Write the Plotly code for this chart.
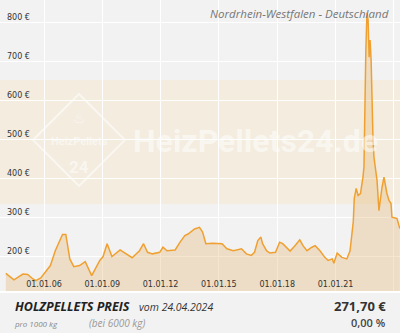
import plotly.graph_objects as go

# ---- data ----
dates = [
    "2004-01-15", "2004-06-15", "2004-12-01", "2005-03-01", "2005-06-01", "2005-08-01",
    "2005-11-01", "2006-02-01", "2006-05-01", "2006-08-01", "2006-12-15", "2007-02-15",
    "2007-05-01", "2007-07-15", "2007-11-01", "2008-02-15", "2008-06-15", "2008-11-15",
    "2009-01-15", "2009-04-01", "2009-05-01", "2009-07-01", "2009-12-01", "2010-04-01",
    "2010-07-15", "2010-12-01", "2011-02-15", "2011-05-01", "2011-08-01", "2011-12-15",
    "2012-02-15", "2012-05-01", "2012-10-01", "2013-01-01", "2013-04-01", "2013-06-01",
    "2013-10-01", "2014-01-01", "2014-03-01", "2014-05-01", "2014-09-01", "2015-03-01",
    "2015-06-01", "2015-10-01", "2016-03-01", "2016-06-01", "2016-09-01", "2016-11-01",
    "2017-01-01", "2017-03-01", "2017-04-01", "2017-06-15", "2017-08-15", "2017-12-01",
    "2018-02-15", "2018-04-15", "2018-09-01", "2018-12-01", "2019-03-01", "2019-05-01",
    "2019-07-15", "2019-10-15", "2019-12-15", "2020-03-15", "2020-06-15", "2020-08-15",
    "2020-11-01", "2020-12-01", "2021-02-01", "2021-05-01", "2021-08-01", "2021-10-01",
    "2021-11-01", "2021-12-01", "2021-12-20", "2022-01-10", "2022-01-25", "2022-03-01",
    "2022-04-15", "2022-06-01", "2022-06-20", "2022-07-25", "2022-08-15", "2022-09-05",
    "2022-09-25", "2022-10-12", "2022-11-01", "2022-12-07", "2022-12-25", "2023-02-20",
    "2023-03-28", "2023-05-25", "2023-07-01", "2023-08-25", "2023-10-03", "2023-11-10",
    "2023-11-28", "2024-03-01", "2024-04-24",
]
prices = [
    157, 140, 155, 154, 143, 138,
    145, 160, 177, 215, 257, 257,
    194, 174, 177, 187, 151, 190,
    200, 233, 220, 200, 217, 207,
    197, 215, 233, 211, 207, 211,
    224, 215, 217, 237, 254, 258,
    271, 275, 263, 233, 234, 233,
    220, 215, 220, 207, 203, 211,
    241, 250, 233, 215, 209, 211,
    237, 233, 214, 228, 243, 228,
    215, 224, 228, 215, 198, 190,
    194, 183, 209, 198, 194, 215,
    246, 290, 350, 372, 375, 357,
    362, 404, 430, 730, 826, 808,
    712, 756, 705, 499, 455, 396,
    318, 378, 404, 362, 344, 336,
    301, 298, 271.7,
]
x_tick_dates = ["2006-01-01", "2009-01-01", "2012-01-01", "2015-01-01",
                "2018-01-01", "2021-01-01", "2024-01-01"]
x_tick_labels = ["01.01.06", "01.01.09", "01.01.12", "01.01.15",
                 "01.01.18", "01.01.21", ""]
y_tick_vals = [200, 300, 400, 500, 600, 700, 800]
y_tick_labels = ["200 €", "300 €", "400 €", "500 €", "600 €", "700 €", "800 €"]

title_text = "Nordrhein-Westfalen - Deutschland"
footer_title = "HOLZPELLETS PREIS"
footer_date = "vom 24.04.2024"
footer_unit = "pro 1000 kg"
footer_qty = "(bei 6000 kg)"
footer_price = "271,70 €"
footer_change = "0,00 %"

W, H = 400, 333
PLOT_H = 292


def px(x):
    return x / W


def py(y):
    return 1 - y / PLOT_H


fig = go.Figure()
fig.add_trace(go.Scatter(
    x=dates, y=prices, mode="lines",
    line=dict(color="#f0a030", width=1.5),
    fill="tozeroy", fillcolor="rgba(228,178,108,0.33)",
    hoverinfo="skip",
))

WM = "rgba(255,255,255,0.55)"
shapes = [
    # beige watermark band
    dict(type="rect", xref="paper", yref="paper", x0=0, x1=1, y0=py(204), y1=py(80),
         fillcolor="#f3ecdf", line=dict(width=0), layer="below"),
    # watermark diamond
    dict(type="path", xref="paper", yref="paper",
         path=f"M {px(33)} {py(140)} L {px(79)} {py(94)} L {px(125)} {py(140)} L {px(79)} {py(186)} Z",
         line=dict(color=WM, width=2), layer="below"),
    # separator between plot and footer
    dict(type="line", xref="paper", yref="paper", x0=0, x1=1, y0=0, y1=0,
         line=dict(color="#ffffff", width=2)),
]

annotations = [
    dict(text="HeizPellets24.de", xref="paper", yref="paper", x=px(131), y=py(141),
         xanchor="left", yanchor="middle", showarrow=False,
         font=dict(family="Roboto", size=32, color=WM, weight="bold")),
    dict(text="HeizPellets", xref="paper", yref="paper", x=px(79), y=py(142),
         xanchor="center", yanchor="middle", showarrow=False,
         font=dict(family="Roboto", size=11, color=WM, weight="bold")),
    dict(text="24", xref="paper", yref="paper", x=px(79), y=py(167),
         xanchor="center", yanchor="middle", showarrow=False,
         font=dict(family="Roboto", size=17, color=WM, weight="bold")),
    dict(text="♨", xref="paper", yref="paper", x=px(79), y=py(118),
         xanchor="center", yanchor="middle", showarrow=False,
         font=dict(family="DejaVu Sans", size=14, color=WM)),
    dict(text="<i>" + title_text + "</i>", xref="paper", yref="paper", x=px(391), y=py(14),
         xanchor="right", yanchor="middle", showarrow=False,
         font=dict(family="Open Sans", size=11.5, color="#777777")),
    dict(text="<b><i>" + footer_title + "</i></b>", xref="paper", yref="paper", x=px(13), y=py(306),
         xanchor="left", yanchor="middle", showarrow=False,
         font=dict(family="Open Sans", size=12.5, color="#222222")),
    dict(text="<i>" + footer_date + "</i>", xref="paper", yref="paper", x=px(137), y=py(307),
         xanchor="left", yanchor="middle", showarrow=False,
         font=dict(family="Open Sans", size=10.5, color="#333333")),
    dict(text="<i>" + footer_unit + "</i>", xref="paper", yref="paper", x=px(12), y=py(323),
         xanchor="left", yanchor="middle", showarrow=False,
         font=dict(family="Open Sans", size=8, color="#888888")),
    dict(text="<i>" + footer_qty + "</i>", xref="paper", yref="paper", x=px(87), y=py(323),
         xanchor="left", yanchor="middle", showarrow=False,
         font=dict(family="Open Sans", size=10, color="#999999")),
    dict(text="<b>" + footer_price + "</b>", xref="paper", yref="paper", x=px(388), y=py(306),
         xanchor="right", yanchor="middle", showarrow=False,
         font=dict(family="Open Sans", size=13, color="#333333")),
    dict(text=footer_change, xref="paper", yref="paper", x=px(388), y=py(322),
         xanchor="right", yanchor="middle", showarrow=False,
         font=dict(family="Open Sans", size=11, color="#444444", weight=600)),
]

fig.update_layout(
    width=W, height=H,
    margin=dict(l=0, r=0, t=0, b=H - PLOT_H, pad=0),
    paper_bgcolor="#f2f2f2", plot_bgcolor="#f2f2f2",
    showlegend=False,
    shapes=shapes, annotations=annotations,
    xaxis=dict(
        type="date", range=["2003-09-27", "2024-04-27"],
        tickvals=x_tick_dates, ticktext=x_tick_labels,
        ticklabelposition="inside", ticks="",
        showgrid=True, gridcolor="#ffffff", gridwidth=1,
        zeroline=False, showline=False,
        tickfont=dict(family="DejaVu Sans", size=8, color="#333333"),
        fixedrange=True,
    ),
    yaxis=dict(
        range=[109, 859],
        tickvals=y_tick_vals, ticktext=y_tick_labels,
        ticklabelposition="inside top", ticks="",
        ticklabelstandoff=4,
        showgrid=True, gridcolor="#ffffff", gridwidth=1,
        zeroline=False, showline=False,
        tickfont=dict(family="DejaVu Sans", size=8, color="#333333"),
        fixedrange=True,
    ),
)

fig.write_html("out.html", config={"displayModeBar": False})
